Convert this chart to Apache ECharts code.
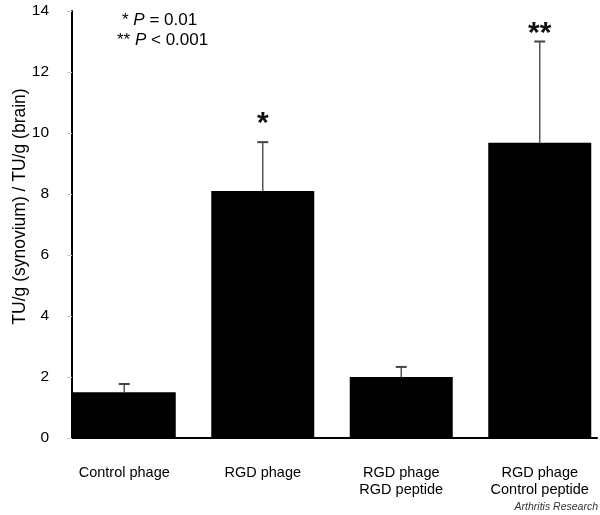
<!DOCTYPE html>
<html>
<head>
<meta charset="utf-8">
<script src="https://cdn.jsdelivr.net/npm/echarts@6/dist/echarts.min.js"></script>
<style>
html,body{margin:0;padding:0;background:#fff;}
#chart{width:600px;height:515px;}
</style>
</head>
<body>
<div id="chart"></div>
<script>
var categories = ['Control phage', 'RGD phage', 'RGD phage\nRGD peptide', 'RGD phage\nControl peptide'];
var means = [1.5, 8.1, 2.0, 9.68];
var upperErr = [1.77, 9.7, 2.33, 13.0];
var stars = ['', '*', '', '**'];
var starLevel = [0, 10.3, 0, 13.25];
var yTicks = [0, 2, 4, 6, 8, 10, 12, 14];

var FONT = '"Liberation Sans", Arial, sans-serif';
var chart = echarts.init(document.getElementById('chart'), null, {renderer: 'canvas'});

var option = {
  animation: false,
  backgroundColor: '#fff',
  grid: [
    {left: 72, right: 3, top: 11, bottom: 77, containLabel: false, outerBoundsMode: 'none'},
    {left: 55, right: -9, top: 11, bottom: 77, containLabel: false, outerBoundsMode: 'none'}
  ],
  xAxis: [
    {
      gridIndex: 0, type: 'value', min: 0, max: 1,
      axisLine: {show: true, lineStyle: {color: '#000', width: 2}},
      axisTick: {show: false}, axisLabel: {show: false}, splitLine: {show: false}
    },
    {
      gridIndex: 1, type: 'category', data: categories,
      axisLine: {show: false}, axisTick: {show: false}, splitLine: {show: false},
      axisLabel: {
        color: '#000', fontFamily: FONT, fontSize: 14.5, lineHeight: 17,
        margin: 26, interval: 0
      }
    }
  ],
  yAxis: [
    {
      gridIndex: 0, type: 'value', min: yTicks[0], max: yTicks[yTicks.length - 1], interval: 2,
      name: 'TU/g (synovium) / TU/g (brain)',
      nameLocation: 'middle', nameGap: 43, nameMoveOverlap: false,
      nameTextStyle: {color: '#000', fontFamily: FONT, fontSize: 17.5, padding: [0, 0, 0, 36]},
      axisLine: {show: true, lineStyle: {color: '#000', width: 2}},
      axisTick: {show: true, length: 5, lineStyle: {color: '#c8c8c8', width: 1}},
      axisLabel: {color: '#000', fontFamily: FONT, fontSize: 15.5, margin: 23},
      splitLine: {show: false}
    },
    {
      gridIndex: 1, type: 'value', min: yTicks[0], max: yTicks[yTicks.length - 1], interval: 2,
      show: false
    }
  ],
  graphic: [
    {
      type: 'text', left: 122, top: 12,
      style: {
        text: '* {i|P} = 0.01', fill: '#000', font: '17px ' + FONT,
        rich: {i: {fontStyle: 'italic', fontSize: 17, fontFamily: FONT}}
      }
    },
    {
      type: 'text', left: 117, top: 32,
      style: {
        text: '** {i|P} < 0.001', fill: '#000', font: '17px ' + FONT,
        rich: {i: {fontStyle: 'italic', fontSize: 17, fontFamily: FONT}}
      }
    },
    {
      type: 'text', right: 2, bottom: 2,
      style: {text: 'Arthritis Research', fill: '#333', font: 'italic 10.5px ' + FONT}
    }
  ],
  series: [
    {
      type: 'bar', xAxisIndex: 1, yAxisIndex: 1,
      data: means, barWidth: 103,
      itemStyle: {color: '#000'}
    },
    {
      type: 'custom', xAxisIndex: 1, yAxisIndex: 1,
      data: means.map(function (m, i) { return [i, m, upperErr[i]]; }),
      renderItem: function (params, api) {
        var i = api.value(0);
        var top = api.coord([i, api.value(1)]);
        var hi = api.coord([i, api.value(2)]);
        var cap = 5.5;
        var children = [
          {type: 'line', shape: {x1: hi[0], y1: top[1], x2: hi[0], y2: hi[1]},
           style: {stroke: '#555', lineWidth: 1.5}},
          {type: 'line', shape: {x1: hi[0] - cap, y1: hi[1], x2: hi[0] + cap, y2: hi[1]},
           style: {stroke: '#444', lineWidth: 2}}
        ];
        if (stars[i]) {
          var sp = api.coord([i, starLevel[i]]);
          children.push({
            type: 'text', x: sp[0], y: sp[1],
            style: {text: stars[i], fill: '#111', font: 'bold 30px ' + FONT,
                    textAlign: 'center', textVerticalAlign: 'middle'}
          });
        }
        return {type: 'group', children: children};
      },
      z: 3
    }
  ]
};
chart.setOption(option);
</script>
</body>
</html>
